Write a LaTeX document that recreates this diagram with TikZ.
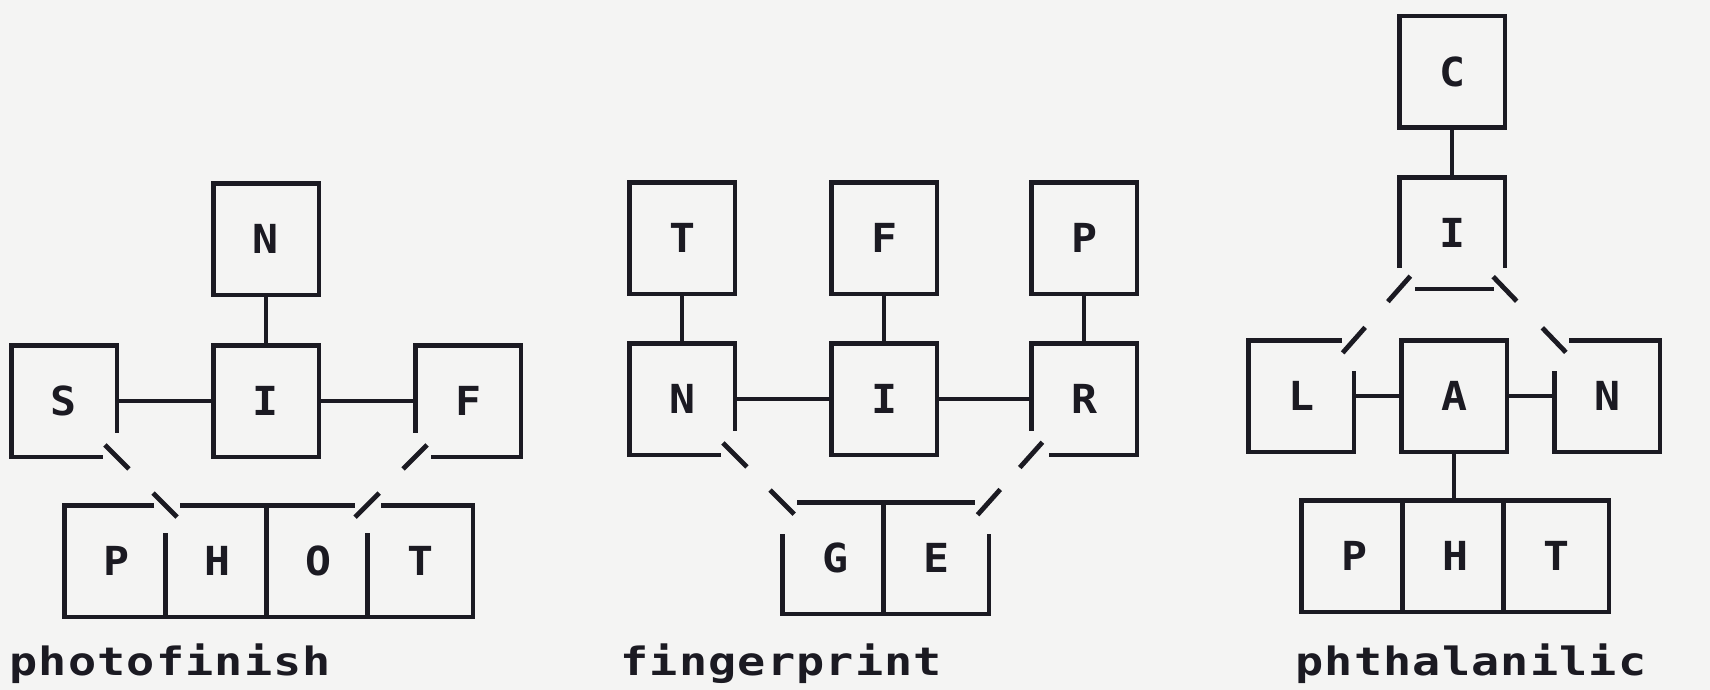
\documentclass[tikz,border=0pt]{standalone}
\usepackage{fontspec}
\usetikzlibrary{calc}
\newfontfamily\twfont[FakeStretch=1.08]{DejaVu Sans Mono}
\newfontfamily\twlabel[LetterSpace=3,FakeStretch=1.2]{DejaVu Sans Mono}
\definecolor{ink}{HTML}{1B1A22}
\definecolor{paper}{HTML}{F4F4F3}
\newcommand{\slashlink}[2]{\draw ($(#1)!-17pt!(#2)$) -- ($(#1)!17pt!(#2)$) ($(#2)!17pt!(#1)$) -- ($(#2)!-17pt!(#1)$);}
\begin{document}
\begin{tikzpicture}[x=1pt,y=-1pt,line width=4.8pt,draw=ink,
  cell/.style={minimum width=101pt,minimum height=107pt,inner sep=0pt,
    font=\twfont\bfseries\fontsize{40}{40}\selectfont,text=ink},
  wordlabel/.style={anchor=base west,inner sep=0pt,
    font=\twlabel\bfseries\fontsize{39}{39}\selectfont,text=ink}]
\fill[paper] (0,0) rectangle (1710,690);
\useasboundingbox (0,0) rectangle (1710,690);

% ---------- photofinish ----------
\node[cell] (aN) at (266,239) {N};
\node[cell] (aS) at (64,401) {S};
\node[cell] (aI) at (266,401) {I};
\node[cell] (aF) at (468,401) {F};
\node[cell] (aP) at (117,561) {P};
\node[cell] (aH) at (218,561) {H};
\node[cell] (aO) at (319,561) {O};
\node[cell] (aT) at (420,561) {T};

\draw (aN.north west) rectangle (aN.south east);
\draw (aI.north west) rectangle (aI.south east);
\draw ($(aS.south east)+(-14,0)$) -- (aS.south west) -- (aS.north west) -- (aS.north east) -- ($(aS.south east)+(0,-24)$);
\draw ($(aF.south west)+(0,-24)$) -- (aF.north west) -- (aF.north east) -- (aF.south east) -- ($(aF.south west)+(16,0)$);
\draw ($(aH.north west)+(-11,0)$) -- (aP.north west) -- (aP.south west) -- (aT.south east) -- (aT.north east) -- ($(aT.north west)+(14,0)$);
\draw ($(aH.north west)+(15,0)$) -- ($(aT.north west)+(-12,0)$);
\draw ($(aH.north west)+(0,28)$) -- (aH.south west);
\draw (aO.north west) -- (aO.south west);
\draw ($(aT.north west)+(0,28)$) -- (aT.south west);

\draw (aN.south) -- (aI.north);
\draw (aS.east) -- (aI.west);
\draw (aI.east) -- (aF.west);
\slashlink{aS.south east}{aH.north west}
\slashlink{aF.south west}{aT.north west}

% ---------- fingerprint ----------
\node[cell] (bT) at (682,238) {T};
\node[cell] (bF) at (884,238) {F};
\node[cell] (bP) at (1084,238) {P};
\node[cell] (bN) at (682,399) {N};
\node[cell] (bI) at (884,399) {I};
\node[cell] (bR) at (1084,399) {R};
\node[cell] (bG) at (835,558) {G};
\node[cell] (bE) at (936,558) {E};

\draw (bT.north west) rectangle (bT.south east);
\draw (bF.north west) rectangle (bF.south east);
\draw (bP.north west) rectangle (bP.south east);
\draw (bI.north west) rectangle (bI.south east);
\draw ($(bN.south east)+(-14,0)$) -- (bN.south west) -- (bN.north west) -- (bN.north east) -- ($(bN.south east)+(0,-24)$);
\draw ($(bR.south west)+(0,-24)$) -- (bR.north west) -- (bR.north east) -- (bR.south east) -- ($(bR.south west)+(18,0)$);
\draw ($(bG.north west)+(0,32)$) -- (bG.south west) -- (bE.south east) -- ($(bE.north east)+(0,32)$);
\draw ($(bG.north west)+(15,0)$) -- ($(bE.north east)+(-14,0)$);
\draw (bE.north west) -- (bE.south west);

\draw (bT.south) -- (bN.north);
\draw (bF.south) -- (bI.north);
\draw (bP.south) -- (bR.north);
\draw (bN.east) -- (bI.west);
\draw (bI.east) -- (bR.west);
\slashlink{bN.south east}{bG.north west}
\slashlink{bR.south west}{bE.north east}

% ---------- phthalanilic ----------
\node[cell] (cC) at (1452,72) {C};
\node[cell] (cI) at (1452,233) {I};
\node[cell] (cL) at (1301,396) {L};
\node[cell] (cA) at (1454,396) {A};
\node[cell] (cN) at (1607,396) {N};
\node[cell] (cP) at (1354,556) {P};
\node[cell] (cH) at (1455,556) {H};
\node[cell] (cT) at (1556,556) {T};

\draw (cC.north west) rectangle (cC.south east);
\draw (cA.north west) rectangle (cA.south east);
\draw ($(cI.south west)+(0,-21)$) -- (cI.north west) -- (cI.north east) -- ($(cI.south east)+(0,-21)$);
\draw ($(cI.south west)+(16,0)$) -- ($(cI.south east)+(-11,0)$);
\draw ($(cL.north east)+(-12,0)$) -- (cL.north west) -- (cL.south west) -- (cL.south east) -- ($(cL.north east)+(0,31)$);
\draw ($(cN.north west)+(15,0)$) -- (cN.north east) -- (cN.south east) -- (cN.south west) -- ($(cN.north west)+(0,31)$);
\draw (cP.north west) rectangle (cT.south east);
\draw (cH.north west) -- (cH.south west);
\draw (cT.north west) -- (cT.south west);

\draw (cC.south) -- (cI.north);
\draw (cL.east) -- (cA.west);
\draw (cA.east) -- (cN.west);
\draw (cA.south) -- (cA.south |- cH.north);
\slashlink{cI.south west}{cL.north east}
\slashlink{cI.south east}{cN.north west}

% ---------- words ----------
\node[wordlabel] (la) at (7,675) {photofinish};
\node[wordlabel] (lb) at (618,675) {fingerprint};
\node[wordlabel] (lc) at (1293,675) {phthalanilic};
\end{tikzpicture}
\end{document}
